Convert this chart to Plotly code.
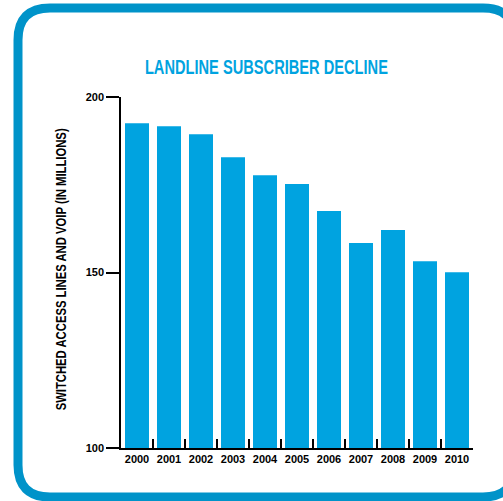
import plotly.graph_objects as go

years = ["2000", "2001", "2002", "2003", "2004", "2005", "2006", "2007", "2008", "2009", "2010"]
subscribers = [192.5, 191.7, 189.4, 182.8, 177.7, 175.2, 167.5, 158.4, 162.1, 153.2, 150.1]
y_ticks = [100, 150, 200]

W, H = 503, 501
L, R, T, B = 121, 30, 97, 53
PW, PH = W - L - R, H - T - B

def px(x):
    return (x - L) / PW

def py(y):
    return (H - B - y) / PH

FONT = "Liberation Sans, Arial, sans-serif"
BAR = "#00A3E0"
BORDER = "#0093C9"

fig = go.Figure(go.Bar(x=years, y=subscribers, marker=dict(color=BAR, line=dict(width=0)), width=0.75))

# rounded border path
x0, x1, y0, y1, r = 18, 515, 8, 497, 32
pts = [
    ("M", [(x0 + r, y0)]),
    ("L", [(x1 - r, y0)]),
    ("Q", [(x1, y0), (x1, y0 + r)]),
    ("L", [(x1, y1 - r)]),
    ("Q", [(x1, y1), (x1 - r, y1)]),
    ("L", [(x0 + r, y1)]),
    ("Q", [(x0, y1), (x0, y1 - r)]),
    ("L", [(x0, y0 + r)]),
    ("Q", [(x0, y0), (x0 + r, y0)]),
]
path = " ".join(c + " " + " ".join(f"{px(a):.5f},{py(b):.5f}" for a, b in p) for c, p in pts) + " Z"

fig.update_layout(
    width=W, height=H,
    margin=dict(l=L, r=R, t=T, b=B, pad=0),
    paper_bgcolor="white", plot_bgcolor="white",
    showlegend=False,
    font=dict(family=FONT, color="black"),
    shapes=[dict(type="path", xref="paper", yref="paper", path=path,
                 line=dict(color=BORDER, width=9), fillcolor="rgba(0,0,0,0)", layer="above")],
    annotations=[
        dict(text="LANDLINE SUBSCRIBER DECLINE", xref="paper", yref="paper",
             x=px(266.5), y=py(66), xanchor="center", yanchor="middle", showarrow=False,
             font=dict(family=FONT, size=21, color=BAR, weight="bold")),
        dict(text="SWITCHED ACCESS LINES AND VOIP (IN MILLIONS)", xref="paper", yref="paper",
             x=px(60.5), y=py(270), xanchor="center", yanchor="middle", showarrow=False,
             textangle=-90, font=dict(family=FONT, size=14, color="black", weight="bold")),
    ],
)
fig.update_xaxes(type="category", range=[-0.5, 10.5], tickson="boundaries", ticks="inside",
                 ticklen=9, tickwidth=1.5, tickcolor="black", showline=True, linecolor="black",
                 linewidth=1.5, showgrid=False, tickangle=0,
                 tickfont=dict(family=FONT, size=11, weight="bold"))
fig.update_yaxes(range=[100, 200], tickvals=y_ticks, ticks="outside", ticklen=13, tickwidth=1.5,
                 tickcolor="black", showline=True, linecolor="black", linewidth=1.5, showgrid=False,
                 zeroline=False, tickfont=dict(family=FONT, size=11, weight="bold"))

post = """
document.body.style.margin = '0';
document.body.style.overflow = 'hidden';
var gd = document.getElementById('{plot_id}');
function squeeze() {
  gd.querySelectorAll('.annotation-text').forEach(function (t) {
    var s = t.textContent;
    var target = s.indexOf('LANDLINE') === 0 ? 243 : 282;
    t.setAttribute('textLength', target);
    t.setAttribute('lengthAdjust', 'spacingAndGlyphs');
  });
}
squeeze();
gd.on('plotly_afterplot', squeeze);
setTimeout(squeeze, 50);
"""

fig.write_html("out.html", post_script=post, config={"displayModeBar": False})
